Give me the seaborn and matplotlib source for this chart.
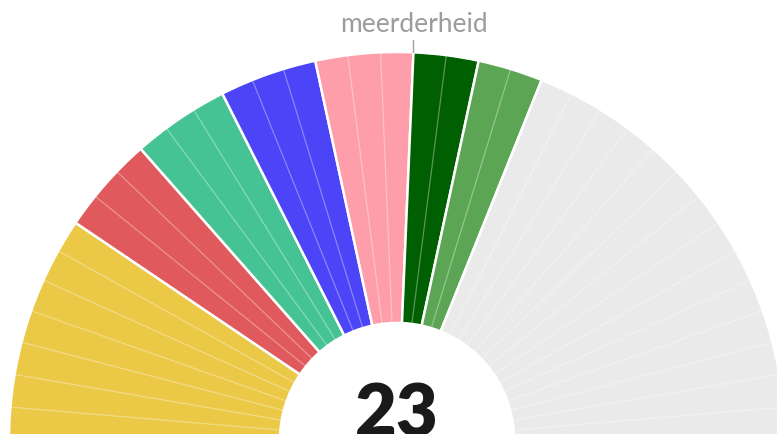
import numpy as np
import matplotlib.pyplot as plt
import seaborn as sns

sns.set_theme(style="white")
plt.rcParams['font.family'] = ['Lato', 'DejaVu Sans']

# seats per party, left to right; last one is the rest (grey)
seats = [7, 3, 3, 3, 3, 2, 2, 14]
colors = ["#EBC846", "#E0595C", "#45C395", "#4B45F7", "#FF9EAB", "#005F00", "#5CA554", "#EAEAEA"]
majority_label = "meerderheid"

total = sum(seats)
coalition = sum(seats[:-1])
majority = total // 2 + 1

# geometry in pixels of the 777x434 picture
W, H = 777, 434
cx, cy, R, r_in = 397, 440, 388, 117
inner = r_in / R

fig = plt.figure(figsize=(W / 100, H / 100), dpi=100)
ax = fig.add_axes([0, 0, 1, 1])

# one wedge per party, lower half hidden
wedges, _ = ax.pie(seats + [total], colors=colors + ["none"],
                   startangle=180, counterclock=False, radius=1,
                   wedgeprops=dict(width=1 - inner, edgecolor="white", linewidth=1.8))
wedges[-1].set_edgecolor("none")

# faint lines between single seats
bounds = np.cumsum(seats)
for k in range(1, total):
    if k in bounds:
        continue
    a = np.deg2rad(180 - k / total * 180)
    ax.plot([inner * np.cos(a), np.cos(a)], [inner * np.sin(a), np.sin(a)],
            color="white", alpha=0.35, lw=0.9, solid_capstyle="butt")

# majority marker
theta = np.deg2rad(180 - majority / total * 180)
mx = np.cos(theta)
ax.plot([mx, mx], [np.sin(theta), 1 + 12 / R], color="#a0a0a0", lw=1)
ax.text(mx, 1 + 20 / R, majority_label, ha="center", va="baseline",
        fontsize=19, color="#9c9c9c")

ax.text(0, 0.01, str(coalition), ha="center", va="baseline",
        fontsize=52, fontweight="heavy", color="#1a1a1a")

ax.set_aspect("auto")
ax.set_xlim(-cx / R, (W - cx) / R)
ax.set_ylim((cy - H) / R, cy / R)
ax.axis("off")

fig.savefig("out.png", dpi=100)
